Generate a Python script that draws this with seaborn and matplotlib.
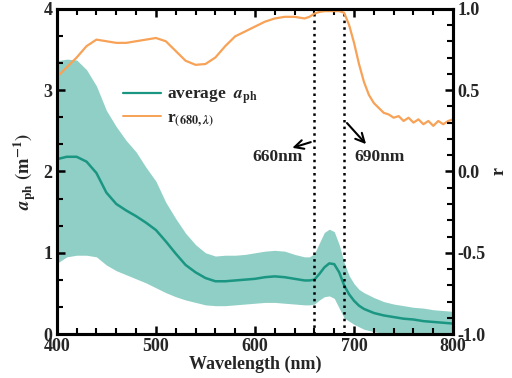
import matplotlib
matplotlib.use("Agg")
import matplotlib.pyplot as plt
from matplotlib.ticker import AutoMinorLocator, MultipleLocator, FixedLocator
from matplotlib.lines import Line2D
import seaborn as sns
import pandas as pd

# wavelength grid (nm)
wl = [400, 410, 420, 430, 440, 450, 460, 470, 480, 490, 500, 510, 520, 530,
      540, 550, 560, 570, 580, 590, 600, 610, 620, 630, 640, 650, 655, 660,
      665, 670, 675, 680, 685, 690, 695, 700, 705, 710, 720, 730, 740, 750,
      760, 770, 780, 790, 800]

# average a_ph and its spread (m^-1)
aph_mean = [2.15, 2.18, 2.18, 2.12, 1.98, 1.74, 1.60, 1.52, 1.45, 1.37, 1.28,
            1.14, 0.99, 0.85, 0.76, 0.69, 0.65, 0.65, 0.66, 0.67, 0.68, 0.70,
            0.71, 0.70, 0.68, 0.66, 0.66, 0.67, 0.74, 0.82, 0.87, 0.86, 0.76,
            0.60, 0.49, 0.41, 0.35, 0.31, 0.26, 0.23, 0.21, 0.19, 0.18, 0.16,
            0.15, 0.14, 0.13]
aph_upper = [3.36, 3.38, 3.37, 3.25, 3.05, 2.75, 2.55, 2.38, 2.24, 2.05, 1.88,
             1.62, 1.42, 1.24, 1.10, 1.00, 0.96, 0.97, 0.97, 0.98, 1.00, 1.02,
             1.03, 1.02, 0.98, 0.95, 0.95, 0.99, 1.12, 1.25, 1.29, 1.26, 1.10,
             0.88, 0.72, 0.62, 0.55, 0.51, 0.45, 0.40, 0.37, 0.35, 0.33, 0.32,
             0.30, 0.29, 0.28]
aph_lower = [0.87, 0.95, 0.97, 0.97, 0.95, 0.85, 0.78, 0.73, 0.68, 0.63, 0.57,
             0.51, 0.46, 0.42, 0.39, 0.36, 0.35, 0.35, 0.36, 0.37, 0.38, 0.39,
             0.39, 0.38, 0.37, 0.36, 0.36, 0.37, 0.42, 0.46, 0.47, 0.44, 0.32,
             0.20, 0.16, 0.12, 0.09, 0.06, 0.03, 0.01, 0.00, 0.00, 0.00, 0.00,
             0.00, 0.00, 0.00]

# correlation r(680, lambda)
r_wl = [400, 410, 420, 430, 440, 450, 460, 470, 480, 490, 500, 510, 520, 530,
        540, 550, 560, 570, 580, 590, 600, 610, 620, 630, 640, 650, 655, 660,
        665, 670, 675, 680, 685, 690, 695, 700, 705, 710, 715, 720, 725, 730,
        735, 740, 745, 750, 755, 760, 765, 770, 775, 780, 785, 790, 795, 800]
r_val = [0.58, 0.64, 0.70, 0.77, 0.81, 0.80, 0.79, 0.79, 0.80, 0.81, 0.82,
         0.80, 0.74, 0.68, 0.655, 0.66, 0.70, 0.77, 0.83, 0.86, 0.89, 0.92,
         0.94, 0.95, 0.95, 0.94, 0.95, 0.97, 0.98, 0.985, 0.985, 0.985, 0.985,
         0.975, 0.90, 0.79, 0.66, 0.55, 0.47, 0.42, 0.39, 0.36, 0.35, 0.33,
         0.34, 0.31, 0.33, 0.30, 0.32, 0.29, 0.31, 0.28, 0.31, 0.29, 0.31, 0.32]

r_ticks = [-1.0, -0.5, 0.0, 0.5, 1.0]
r_ticklabels = ["-1.0", "-0.5", "0.0", "0.5", "1.0"]

TEAL = "#1a9682"
BAND = "#8fcfc5"
ORANGE = "#f7a257"

sns.set_style("ticks")
plt.rcParams["font.family"] = ["Liberation Serif", "DejaVu Serif"]
plt.rcParams["font.weight"] = "bold"
plt.rcParams["mathtext.fontset"] = "stix"
plt.rcParams["axes.axisbelow"] = False

df = pd.DataFrame({"wl": wl, "mean": aph_mean, "upper": aph_upper, "lower": aph_lower})
df_r = pd.DataFrame({"wl": r_wl, "r": r_val})

fig = plt.figure(figsize=(5.12, 3.78), dpi=100)
ax = fig.add_axes([0.111, 0.116, 0.774, 0.861])
ax2 = ax.twinx()

ax.fill_between(df["wl"], df["lower"], df["upper"], color=BAND, lw=0)
sns.lineplot(data=df, x="wl", y="mean", color=TEAL, lw=1.8, ax=ax)
sns.lineplot(data=df_r, x="wl", y="r", color=ORANGE, lw=1.6, ax=ax2)

# dotted markers at 660 and 690 nm
for x in (660, 690):
    ax.axvline(x, color="black", ls=":", lw=1.8)

ax.annotate("", xy=(635, 2.28), xytext=(659, 2.37),
            arrowprops=dict(arrowstyle="->", color="black", lw=1.5, mutation_scale=16))
ax.annotate("", xy=(714, 2.31), xytext=(691, 2.62),
            arrowprops=dict(arrowstyle="->", color="black", lw=1.5, mutation_scale=16))
ax.text(623, 2.18, "660nm", ha="center", va="center", fontsize=12.5, fontweight="bold")
ax.text(726, 2.18, "690nm", ha="center", va="center", fontsize=12.5, fontweight="bold")

ax.set_xlim(400, 800)
ax.set_ylim(0, 4)
ax2.set_ylim(-1.0, 1.0)

ax.xaxis.set_major_locator(MultipleLocator(100))
ax.xaxis.set_minor_locator(AutoMinorLocator(5))
ax.yaxis.set_major_locator(MultipleLocator(1))
ax.yaxis.set_minor_locator(AutoMinorLocator(3))
ax2.yaxis.set_major_locator(FixedLocator(r_ticks))
ax2.set_yticklabels(r_ticklabels)
ax2.yaxis.set_minor_locator(AutoMinorLocator(5))

for a in (ax, ax2):
    a.tick_params(which="both", direction="in", color="black", labelsize=13, pad=3)
    a.tick_params(which="major", length=6, width=1.8)
    a.tick_params(which="minor", length=4, width=1.5)
    for s in a.spines.values():
        s.set_linewidth(2.2)
        s.set_color("black")
ax.tick_params(axis="x", which="both", top=True, bottom=True)

ax.set_xlabel("Wavelength (nm)", fontsize=13, fontweight="bold", labelpad=0)
ax.set_ylabel(r"$\mathbf{\mathit{a}}_{\mathbf{ph}}$ $\mathbf{(m^{-1})}$", fontsize=13.5, labelpad=4)
ax2.set_ylabel("r", fontsize=13, fontweight="bold", labelpad=4)

handles = [Line2D([], [], color=TEAL, lw=1.6), Line2D([], [], color=ORANGE, lw=1.4)]
labels = [r"average  $\mathit{a}_{\mathbf{ph}}$", r"r$_{\mathbf{(680,}\mathit{\lambda}\mathbf{)}}$"]
ax.legend(handles, labels, loc="upper left", bbox_to_anchor=(0.15, 0.78),
          frameon=False, fontsize=12.5, handlelength=2.2, handletextpad=0.3,
          labelspacing=0.2, borderaxespad=0)

fig.savefig("out.png", dpi=100)
